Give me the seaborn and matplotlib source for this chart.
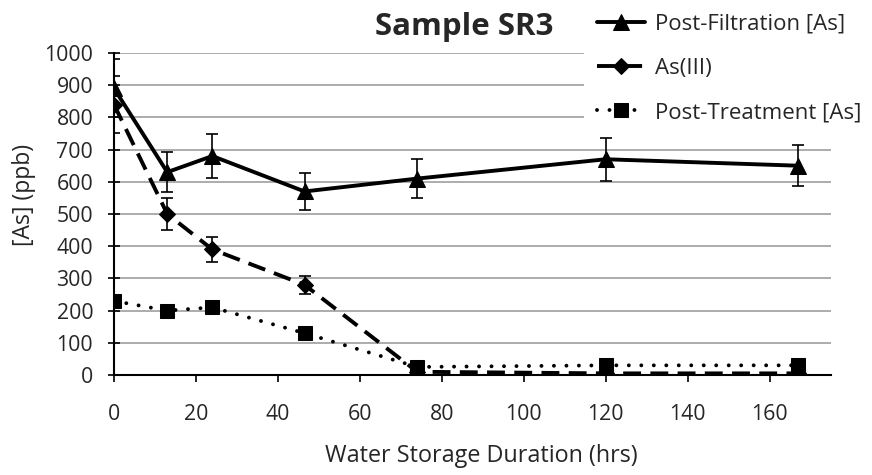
import matplotlib
matplotlib.use("Agg")
import matplotlib.pyplot as plt
import seaborn as sns
import pandas as pd
import numpy as np

hours = [0, 13, 24, 46.5, 74, 120, 167]
post_filtration = [890, 630, 680, 570, 610, 670, 650]
post_filtration_err = [90, 63, 68, 57, 61, 67, 64]
as_iii = [840, 500, 390, 280, 10, 5, 5]
as_iii_err = [88, 50, 40, 28, 0, 0, 0]
post_treatment = [230, 200, 210, 130, 25, 30, 30]

labels = ["Post-Filtration [As]", "As(III)", "Post-Treatment [As]"]
yticks = list(range(0, 1001, 100))
xticks = list(range(0, 161, 20))

sns.set_theme(style="white")
plt.rcParams['font.family'] = ['Open Sans', 'DejaVu Sans']

W, H = 872, 475
fig = plt.figure(figsize=(W / 100, H / 100), dpi=100)
L, R, T, B = 114, 831, 53, 375
ax = fig.add_axes([L / W, 1 - B / H, (R - L) / W, (B - T) / H])

df = pd.DataFrame({"hours": hours * 3,
                   "value": post_filtration + as_iii + post_treatment,
                   "series": [labels[0]] * 7 + [labels[1]] * 7 + [labels[2]] * 7})

ax.yaxis.grid(True, color="#a6a6a6", linewidth=1.3)
ax.set_axisbelow(True)

styles = {
    labels[0]: dict(marker="^", markersize=11, ls="-"),
    labels[1]: dict(marker="D", markersize=8, ls=(0, (4.6, 2.4))),
    labels[2]: dict(marker="s", markersize=10, ls=(0, (0.01, 3.2))),
}

ax.errorbar(hours, post_filtration, yerr=post_filtration_err, fmt="none",
            ecolor="black", elinewidth=1.2, capsize=4, capthick=1.2, zorder=3)
mask = [e > 0 for e in as_iii_err]
ax.errorbar([h for h, m in zip(hours, mask) if m], [v for v, m in zip(as_iii, mask) if m],
            yerr=[e for e, m in zip(as_iii_err, mask) if m], fmt="none",
            ecolor="black", elinewidth=1.2, capsize=4, capthick=1.2, zorder=3)

for lab in labels:
    sub = df[df["series"] == lab]
    st = styles[lab]
    sns.lineplot(data=sub, x="hours", y="value", ax=ax, color="black",
                 marker=st["marker"], markersize=st["markersize"],
                 markeredgecolor="black", markerfacecolor="black",
                 linewidth=2.8, label=lab, zorder=4, legend=False,
                 linestyle=st["ls"],
                 dash_capstyle="round" if lab == labels[2] else "butt")

ax.set_xlim(0, 175)
ax.set_ylim(0, 1000)
ax.set_xticks(xticks)
ax.set_yticks(yticks)
ax.set_xticklabels([str(v) for v in xticks], fontsize=15.3)
ax.set_yticklabels([str(v) for v in yticks], fontsize=15.3)
ax.tick_params(axis="y", direction="inout", length=8, width=1.2, pad=11, color="black", left=True)
ax.tick_params(axis="x", direction="out", length=5, width=1.2, pad=16, color="black", bottom=True)
for s in ["top", "right"]:
    ax.spines[s].set_visible(False)
for s in ["left", "bottom"]:
    ax.spines[s].set_color("black")
    ax.spines[s].set_linewidth(1.5)
ax.set_xlabel("")
ax.set_ylabel("")

fig.text(481 / W, 1 - 456 / H, "Water Storage Duration (hrs)", fontsize=16.8,
         ha="center", va="center")
fig.text(24 / W, 1 - 195 / H, "[As] (ppb)", fontsize=16.5, rotation=90,
         ha="center", va="center")
fig.text(464 / W, 1 - 27 / H, "Sample SR3", fontsize=22.5, fontweight="bold",
         ha="center", va="center")

handles, lbls = ax.get_legend_handles_labels()
leg = fig.legend(handles, lbls, loc="upper left", bbox_to_anchor=(584 / W, 1.0),
                 frameon=True, facecolor="white", edgecolor="none", framealpha=1,
                 fontsize=16, handlelength=2.16, handletextpad=0.45,
                 labelspacing=1.05, borderaxespad=0, borderpad=0.6)
leg.set_zorder(10)

fig.savefig("out.png", dpi=100)
